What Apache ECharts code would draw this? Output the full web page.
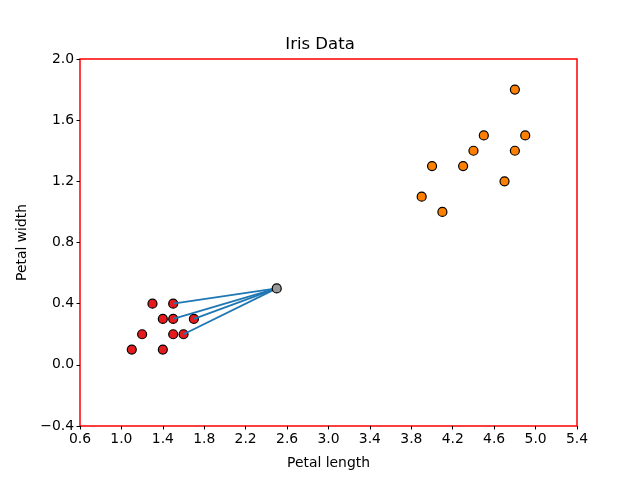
<!DOCTYPE html>
<html lang="en">
<head>
    <meta charset="UTF-8">
    <title>Iris Data</title>
    <script src="https://cdn.jsdelivr.net/npm/echarts@6/dist/echarts.min.js"></script>
    <style>
        html, body { margin: 0; padding: 0; background: #fff; }
    </style>
</head>
<body>
    <div id="chart" style="width:640px; height:480px"></div>
    <script>
        // 数据：花瓣长度 / 宽度
        const setosaLength = [1.1, 1.2, 1.3, 1.4, 1.4, 1.5, 1.5, 1.5, 1.6, 1.7];
        const setosaWidth = [0.1, 0.2, 0.4, 0.3, 0.1, 0.4, 0.3, 0.2, 0.2, 0.3];
        const versicolorLength = [4.8, 4.0, 4.3, 4.4, 4.5, 4.8, 4.9, 4.7, 3.9, 4.1];
        const versicolorWidth = [1.8, 1.3, 1.3, 1.4, 1.5, 1.4, 1.5, 1.2, 1.1, 1.0];
        const newPoint = [2.5, 0.5];
        // 最近邻在 setosa 中的下标
        const neighbours = [5, 6, 9, 8];

        const font = 'DejaVu Sans';
        const fmt = v => (v < 0 ? '\u2212' : '') + Math.abs(v).toFixed(1);

        const zip = (a, b) => a.map((v, i) => [v, b[i]]);

        const chart = echarts.init(document.getElementById('chart'));

        const lineSeries = neighbours.map(i => ({
            type: 'line',
            data: [[setosaLength[i], setosaWidth[i]], newPoint],
            symbol: 'none',
            lineStyle: { color: '#1f77b4', width: 1.8 },
            z: 3,
            silent: true
        }));

        chart.setOption({
            animation: false,
            title: {
                text: 'Iris Data',
                left: 'center',
                top: 31,
                textStyle: { fontFamily: font, fontSize: 16.5, fontWeight: 'normal', color: '#000' }
            },
            grid: {
                left: 80, right: 63, top: 59, bottom: 54,
                show: true,
                borderColor: '#ff0000',
                borderWidth: 1.5,
                backgroundColor: 'transparent'
            },
            xAxis: {
                type: 'value',
                min: 0.6, max: 5.4, interval: 0.4,
                name: 'Petal length',
                nameLocation: 'middle',
                nameGap: 30,
                nameTextStyle: { fontFamily: font, fontSize: 13.9, color: '#000' },
                splitLine: { show: false },
                axisLine: { show: false, onZero: false },
                axisTick: { show: true, length: 3.5, lineStyle: { color: '#000' } },
                axisLabel: { fontFamily: font, fontSize: 13.9, color: '#000', margin: 6, formatter: fmt }
            },
            yAxis: {
                type: 'value',
                min: -0.4, max: 2.0, interval: 0.4,
                name: 'Petal width',
                nameLocation: 'middle',
                nameGap: 51,
                nameTextStyle: { fontFamily: font, fontSize: 13.9, color: '#000' },
                splitLine: { show: false },
                axisLine: { show: false, onZero: false },
                axisTick: { show: true, length: 3.5, lineStyle: { color: '#000' } },
                axisLabel: { fontFamily: font, fontSize: 13.9, color: '#000', margin: 6, formatter: fmt }
            },
            series: [
                {
                    type: 'scatter',
                    data: zip(setosaLength, setosaWidth),
                    symbolSize: 9,
                    itemStyle: { color: '#e41a1c', borderColor: '#000', borderWidth: 1.2, opacity: 1 },
                    z: 2
                },
                {
                    type: 'scatter',
                    data: zip(versicolorLength, versicolorWidth),
                    symbolSize: 9,
                    itemStyle: { color: '#ff7f00', borderColor: '#000', borderWidth: 1.2, opacity: 1 },
                    z: 2
                },
                ...lineSeries,
                {
                    type: 'scatter',
                    data: [newPoint],
                    symbolSize: 9,
                    itemStyle: { color: '#999999', borderColor: '#000', borderWidth: 1.2, opacity: 1 },
                    z: 4
                }
            ]
        });
    </script>
</body>
</html>
